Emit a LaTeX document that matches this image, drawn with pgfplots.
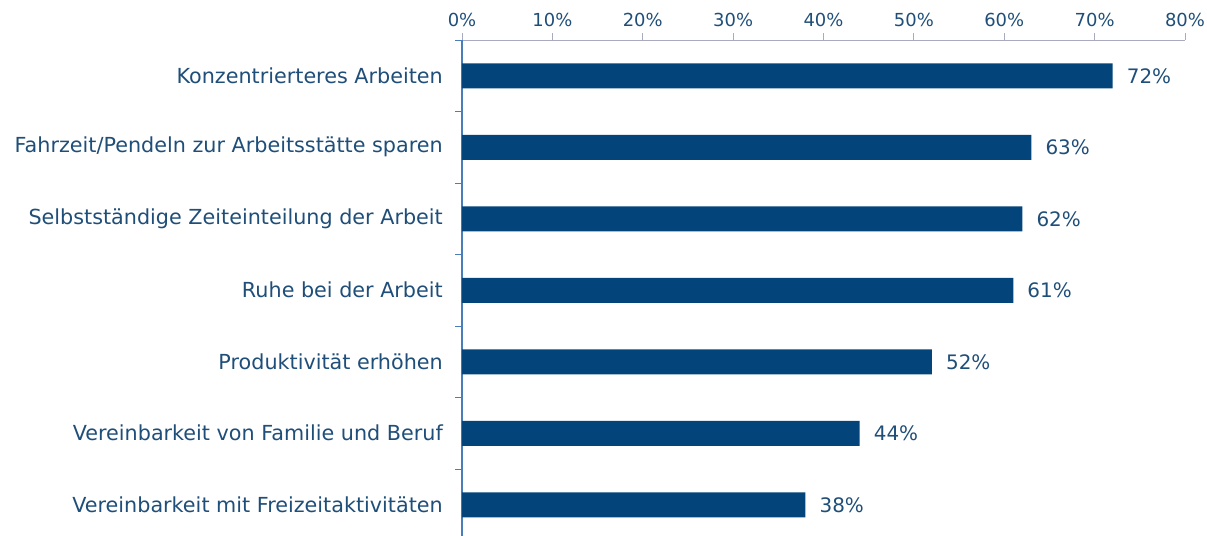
\documentclass[border=0pt]{standalone}
\usepackage{pgfplots}
\pgfplotsset{compat=1.18}
\usetikzlibrary{calc}
\usepackage{fontspec}
\setmainfont{DejaVu Sans}
\definecolor{barblue}{HTML}{03457A}
\definecolor{txtblue}{HTML}{1F4E79}
\definecolor{xaxgray}{HTML}{A8AABF}
\definecolor{yaxblue}{HTML}{4A7EBB}
\begin{document}
\begin{tikzpicture}
\begin{axis}[
  name=ax,
  scale only axis,
  width=723bp, height=496bp,
  xbar, bar width=25bp,
  xmin=0, xmax=80,
  ymin=-0.5, ymax=6.437,
  y dir=reverse,
  axis x line*=top,
  axis y line*=left,
  x axis line style={draw=xaxgray, line width=1pt},
  y axis line style={draw=yaxblue, line width=1.2pt},
  xtick={0,10,...,80},
  xticklabels={0\%,10\%,20\%,30\%,40\%,50\%,60\%,70\%,80\%},
  xticklabel style={font=\fontsize{18}{20}\selectfont, text=txtblue, yshift=3bp},
  xtick style={draw=xaxgray, line width=0.8pt},
  tick align=outside,
  major tick length=7bp,
  ytick={-0.5,0.5,...,5.5},
  yticklabels={},
  ytick style={draw=yaxblue, line width=1pt},
  extra y ticks={0,1,2,3,4,5,6},
  extra y tick labels={Konzentrierteres Arbeiten,Fahrzeit/Pendeln zur Arbeitsstätte sparen,Selbstständige Zeiteinteilung der Arbeit,Ruhe bei der Arbeit,Produktivität erhöhen,Vereinbarkeit von Familie und Beruf,Vereinbarkeit mit Freizeitaktivitäten},
  extra y tick style={major tick length=0pt, yticklabel style={font=\fontsize{20.8}{24}\selectfont, text=txtblue, inner sep=0pt, anchor=east}},
  yticklabel shift=19bp,
  nodes near coords={\pgfmathprintnumber[assume math mode=true]{\pgfplotspointmeta}\%},
  nodes near coords style={font=\fontsize{20}{24}\selectfont, text=txtblue, anchor=west, inner sep=0pt, xshift=14bp},
  point meta=x,
  clip=false,
]
\addplot[fill=barblue, draw=none] coordinates {
  (72,0) (63,1) (62,2) (61,3) (52,4) (44,5) (38,6)
};
\end{axis}
\pgfresetboundingbox
\path (ax.south west) ++(-462bp,0) rectangle ($(ax.north east)+(22bp,40bp)$);
\end{tikzpicture}
\end{document}
